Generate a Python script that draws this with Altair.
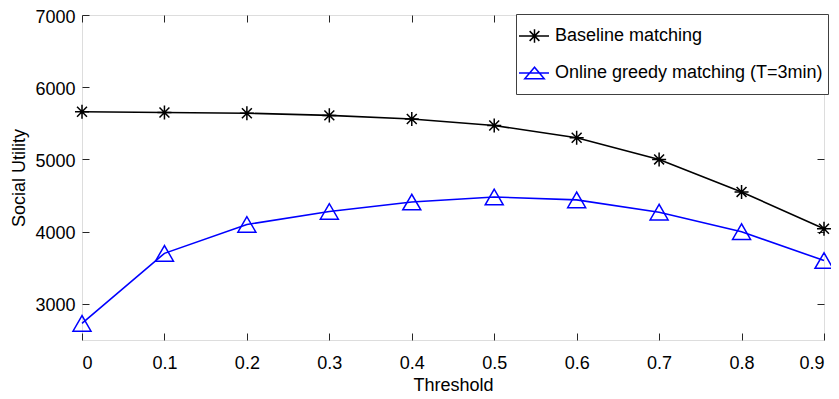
import altair as alt
import pandas as pd

thresholds = [0.0, 0.1, 0.2, 0.3, 0.4, 0.5, 0.6, 0.7, 0.8, 0.9]
baseline = [5660, 5650, 5640, 5610, 5560, 5470, 5300, 5000, 4550, 4040]
online = [2730, 3700, 4100, 4280, 4410, 4480, 4440, 4270, 4000, 3600]
series_names = ["Baseline matching", "Online greedy matching (T=3min)"]
series_colors = ["#000000", "#0000FF"]
x_ticks = [0.0, 0.1, 0.2, 0.3, 0.4, 0.5, 0.6, 0.7, 0.8, 0.9]
y_ticks = [3000, 4000, 5000, 6000, 7000]

rows = []
for t, b, o in zip(thresholds, baseline, online):
    rows.append({"threshold": t, "utility": b, "series": series_names[0]})
    rows.append({"threshold": t, "utility": o, "series": series_names[1]})
df = pd.DataFrame(rows)

FONT = "Liberation Sans"
AX = "#262626"

# marker shapes (unit box [-1,1])
star_path = "M-0.78,0H0.78M0,-0.78V0.78M-0.55,-0.55L0.55,0.55M-0.55,0.55L0.55,-0.55"
# legend symbols: line with marker (last moveTo only widens the layout box)
leg_star = ("M-1.169,0H0.677M-0.215,-0.42V0.42M-0.515,-0.3L0.085,0.3"
            "M-0.515,0.3L0.085,-0.3M-0.215,0.8")
leg_tri = "M-1.169,0H0.677M-0.215,-0.36L-0.815,0.36L0.385,0.36ZM-0.215,0.8"

xscale = alt.Scale(domain=[0, 0.9], nice=False, zero=False)
yscale = alt.Scale(domain=[2500, 7000], nice=False, zero=False)
cscale = alt.Scale(domain=series_names, range=series_colors)

x_main = alt.Axis(orient="bottom", values=x_ticks, format="~g", ticks=False, tickSize=0,
                  domain=False, grid=False, labelPadding=14, labelFontSize=18,
                  labelFont=FONT, labelColor="black", title="Threshold",
                  titleFontSize=18, titleFont=FONT, titleFontWeight="normal",
                  titleColor="black", titleBaseline="alphabetic", titleX=371, titleY=50)
y_main = alt.Axis(orient="left", values=y_ticks, format="d", ticks=False, tickSize=0,
                  domain=False, grid=False, labelPadding=7, labelOffset=2,
                  labelFontSize=18, labelFont=FONT, labelColor="black",
                  title="Social Utility", titleFontSize=18, titleFont=FONT,
                  titleFontWeight="normal", titleColor="black",
                  titleBaseline="alphabetic", titleX=-57.5, titleY=162.5,
                  titleAngle=270, titleAlign="center")

def tick_axis(orient, values):
    return alt.Axis(orient=orient, values=values, offset=-7, tickSize=7, labels=False,
                    domain=False, grid=False, title=None, tickColor=AX, tickWidth=1)

lines = alt.Chart(df).mark_line(strokeWidth=1.6).encode(
    x=alt.X("threshold:Q", scale=xscale, axis=x_main),
    y=alt.Y("utility:Q", scale=yscale, axis=y_main),
    color=alt.Color("series:N", scale=cscale, legend=None),
    detail="series:N",
)

points = alt.Chart(df).mark_point(filled=False, strokeWidth=1.5, size=324, opacity=1).encode(
    x=alt.X("threshold:Q", scale=xscale, axis=tick_axis("bottom", x_ticks)),
    y=alt.Y("utility:Q", scale=yscale, axis=tick_axis("left", y_ticks)),
    color=alt.Color("series:N", scale=cscale, legend=None),
    shape=alt.Shape("series:N", scale=alt.Scale(domain=series_names,
                                                range=[star_path, "triangle-up"]),
                    legend=None),
)

legend = alt.Legend(title=None, orient="none", legendX=434, legendY=-1, padding=5,
                    labelFontSize=18, labelFont=FONT, labelColor="black",
                    strokeColor="#404040", fillColor="white", symbolSize=1056,
                    symbolStrokeWidth=1.5, labelOffset=0, rowPadding=4,
                    direction="vertical", labelLimit=400)

legend_layer = alt.Chart(df).transform_filter("false").mark_point(
    filled=False, strokeWidth=1.5, size=1056, opacity=1).encode(
    x=alt.X("threshold:Q", scale=xscale, axis=tick_axis("top", x_ticks)),
    y=alt.Y("utility:Q", scale=yscale, axis=tick_axis("right", y_ticks)),
    color=alt.Color("series:N", scale=cscale, legend=legend),
    shape=alt.Shape("series:N", scale=alt.Scale(domain=series_names,
                                                range=[leg_star, leg_tri]),
                    legend=legend),
)

chart = alt.layer(lines, points, legend_layer).resolve_axis(
    x="independent", y="independent"
).resolve_scale(
    color="independent", shape="independent"
).properties(
    width=742, height=325,
    autosize=alt.AutoSizeParams(type="none"),
    padding={"left": 74, "top": 7, "right": 7, "bottom": 51},
).configure_view(
    stroke=AX, strokeWidth=1
).configure(background="white")

chart.save("out.html", embed_options={"renderer": "svg", "actions": False})
